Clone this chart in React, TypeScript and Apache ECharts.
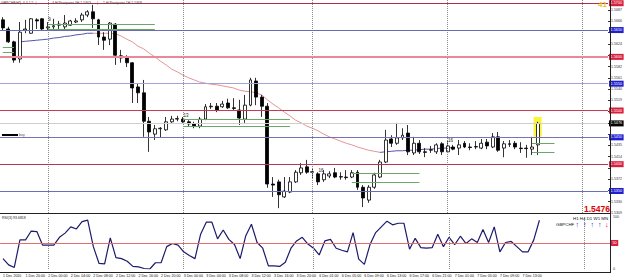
import React, { useEffect, useRef } from 'react';
import * as echarts from 'echarts';

const FONT = '"Liberation Sans", Arial, sans-serif';

// ---- time categories (H1 bars) ----
const dayBlocks = [
  { day: '1 Dec', from: 16, to: 23 },
  { day: '2 Dec', from: 0, to: 23 },
  { day: '3 Dec', from: 0, to: 23 },
  { day: '6 Dec', from: 1, to: 23 },
  { day: '7 Dec', from: 0, to: 23 },
  { day: '8 Dec', from: 0, to: 4 },
];
const firstLabel = '1 Dec 2010';
const lastBarIndex = 95;
const dayBreakIndex = [8, 32, 55, 79, 103];

// ---- OHLC (GBPCHF H1) ----
const opens = [
  1.5669, 1.5652, 1.5628, 1.5596, 1.5650, 1.5644, 1.5669, 1.5671, 1.5654, 1.5656,
  1.5659, 1.5656, 1.5659, 1.5665, 1.5669, 1.5678, 1.5684, 1.5669, 1.5637, 1.5633,
  1.5661, 1.5602, 1.5598, 1.5589, 1.5544, 1.5533, 1.5480, 1.5456, 1.5466, 1.5464,
  1.5479, 1.5484, 1.5484, 1.5479, 1.5475, 1.5471, 1.5484, 1.5507, 1.5508, 1.5507,
  1.5514, 1.5505, 1.5501, 1.5484, 1.5510, 1.5555, 1.5525, 1.5508, 1.5363, 1.5367,
  1.5339, 1.5348, 1.5367, 1.5384, 1.5395, 1.5385, 1.5382, 1.5371, 1.5378, 1.5384,
  1.5376, 1.5376, 1.5376, 1.5385, 1.5357, 1.5333, 1.5357, 1.5376, 1.5404, 1.5447,
  1.5439, 1.5449, 1.5458, 1.5421, 1.5439, 1.5423, 1.5426, 1.5423, 1.5438, 1.5423,
  1.5432, 1.5430, 1.5439, 1.5432, 1.5432, 1.5430, 1.5441, 1.5432, 1.5451, 1.5430,
  1.5438, 1.5439, 1.5430, 1.5430, 1.5428, 1.5436,
];
const closes = [
  1.5654, 1.5628, 1.5594, 1.5646, 1.5652, 1.5671, 1.5667, 1.5652, 1.5656, 1.5658,
  1.5661, 1.5663, 1.5667, 1.5667, 1.5678, 1.5684, 1.5671, 1.5637, 1.5631, 1.5663,
  1.5603, 1.5598, 1.5589, 1.5542, 1.5533, 1.5480, 1.5460, 1.5466, 1.5467, 1.5479,
  1.5484, 1.5485, 1.5479, 1.5475, 1.5471, 1.5484, 1.5507, 1.5508, 1.5501, 1.5512,
  1.5505, 1.5504, 1.5486, 1.5510, 1.5557, 1.5525, 1.5508, 1.5363, 1.5361, 1.5343,
  1.5350, 1.5367, 1.5385, 1.5393, 1.5385, 1.5386, 1.5367, 1.5382, 1.5382, 1.5376,
  1.5377, 1.5375, 1.5384, 1.5357, 1.5337, 1.5357, 1.5380, 1.5404, 1.5445, 1.5439,
  1.5449, 1.5454, 1.5423, 1.5439, 1.5423, 1.5422, 1.5427, 1.5436, 1.5423, 1.5434,
  1.5428, 1.5436, 1.5432, 1.5431, 1.5433, 1.5439, 1.5434, 1.5451, 1.5426, 1.5438,
  1.5437, 1.5432, 1.5429, 1.5429, 1.5432, 1.5476,
];
const lows = [
  1.5650, 1.5626, 1.5589, 1.5589, 1.5644, 1.5643, 1.5652, 1.5650, 1.5650, 1.5652,
  1.5652, 1.5650, 1.5658, 1.5663, 1.5665, 1.5674, 1.5654, 1.5622, 1.5613, 1.5622,
  1.5585, 1.5589, 1.5581, 1.5514, 1.5514, 1.5451, 1.5423, 1.5445, 1.5449, 1.5462,
  1.5477, 1.5480, 1.5477, 1.5471, 1.5467, 1.5467, 1.5482, 1.5503, 1.5497, 1.5505,
  1.5503, 1.5501, 1.5473, 1.5477, 1.5508, 1.5510, 1.5488, 1.5356, 1.5339, 1.5318,
  1.5337, 1.5346, 1.5365, 1.5380, 1.5382, 1.5374, 1.5361, 1.5367, 1.5374, 1.5374,
  1.5371, 1.5371, 1.5374, 1.5352, 1.5320, 1.5328, 1.5354, 1.5374, 1.5402, 1.5432,
  1.5436, 1.5445, 1.5417, 1.5417, 1.5419, 1.5413, 1.5421, 1.5419, 1.5417, 1.5421,
  1.5426, 1.5417, 1.5430, 1.5426, 1.5428, 1.5428, 1.5428, 1.5430, 1.5423, 1.5413,
  1.5432, 1.5428, 1.5421, 1.5412, 1.5417, 1.5417,
];
const highs = [
  1.5674, 1.5656, 1.5630, 1.5665, 1.5669, 1.5672, 1.5672, 1.5672, 1.5665, 1.5671,
  1.5667, 1.5678, 1.5669, 1.5672, 1.5682, 1.5687, 1.5697, 1.5671, 1.5646, 1.5665,
  1.5663, 1.5613, 1.5603, 1.5590, 1.5551, 1.5557, 1.5488, 1.5473, 1.5469, 1.5488,
  1.5490, 1.5490, 1.5488, 1.5482, 1.5479, 1.5488, 1.5512, 1.5514, 1.5514, 1.5518,
  1.5522, 1.5523, 1.5520, 1.5529, 1.5561, 1.5561, 1.5529, 1.5514, 1.5376, 1.5371,
  1.5376, 1.5376, 1.5389, 1.5402, 1.5408, 1.5393, 1.5385, 1.5389, 1.5387, 1.5393,
  1.5385, 1.5389, 1.5389, 1.5389, 1.5361, 1.5361, 1.5384, 1.5408, 1.5464, 1.5454,
  1.5477, 1.5467, 1.5473, 1.5451, 1.5445, 1.5430, 1.5434, 1.5439, 1.5441, 1.5445,
  1.5436, 1.5445, 1.5443, 1.5439, 1.5443, 1.5447, 1.5447, 1.5458, 1.5460, 1.5443,
  1.5445, 1.5443, 1.5441, 1.5436, 1.5451, 1.5479,
];

// ---- RSI(3) ----
const rsiValues = [
  20, 8, 3, 56, 56, 73, 72, 46, 46, 46,
  61, 69, 81, 77, 91, 94, 43, 11, 10, 60,
  22, 20, 15, 5, 4, 1, 0, 12, 12, 43,
  49, 46, 33, 26, 20, 67, 90, 90, 58, 75,
  57, 47, 20, 64, 86, 51, 40, 6, 6, 5,
  13, 40, 54, 61, 48, 40, 27, 54, 57, 40,
  36, 33, 70, 19, 9, 47, 70, 81, 92, 85,
  88, 88, 38, 59, 41, 40, 41, 67, 43, 61,
  47, 63, 49, 58, 51, 76, 51, 81, 33, 51,
  53, 43, 33, 33, 56, 93.68,
];
const rsiLevel = 50;

// ---- moving average (colour changes with slope) ----
const pinkMAStart = 16;
const pinkMA = [
  1.5644, 1.5644, 1.5644, 1.5644, 1.5643, 1.5639, 1.5633, 1.5628, 1.5620, 1.5615,
  1.5607, 1.5600, 1.5592, 1.5585, 1.5577, 1.5572, 1.5566, 1.5561, 1.5557, 1.5553,
  1.5551, 1.5549, 1.5548, 1.5546, 1.5544, 1.5542, 1.5538, 1.5536, 1.5535, 1.5533,
  1.5529, 1.5520, 1.5512, 1.5505, 1.5497, 1.5490, 1.5482, 1.5477, 1.5471, 1.5467,
  1.5462, 1.5456, 1.5451, 1.5447, 1.5443, 1.5439, 1.5436, 1.5432, 1.5429, 1.5426,
  1.5424, 1.5422,
];
const blueMA1Start = 3;
const blueMA1 = [1.5628, 1.5629, 1.5630, 1.5631, 1.5632, 1.5633, 1.5635, 1.5636, 1.5638, 1.5639, 1.5641, 1.5642, 1.5644, 1.5644];
const blueMA2Start = 67;
const blueMA2 = [1.5422, 1.5423, 1.5424, 1.5425, 1.5425, 1.5426, 1.5426, 1.5427, 1.5428, 1.5428, 1.5429, 1.5430, 1.5430, 1.5431];

// ---- horizontal levels ----
const levelPrices = [1.57, 1.565, 1.56, 1.555, 1.55, 1.545, 1.54, 1.535];
const levelLineColors = ['#a8324e', '#6b6bb5', '#e8899a', '#a3a3d6', '#c43a5c', '#7373b5', '#b83555', '#6e6eb8'];
const levelLineWidths = [1.2, 1, 2, 1, 1, 1, 1, 1];
const levelTagColors = ['#d81f3d', '#1f1fd0', '#d81f3d', '#1f1fd0', '#d81f3d', '#1f1fd0', '#d81f3d', '#1f1fd0'];
const currentPrice = 1.5476;

// ---- short green range lines ----
const greenFrom = [0, 0, 8, 8, 32, 32, 62, 62, 94, 94];
const greenTo = [2, 2, 27, 27, 51, 51, 74, 74, 98, 98];
const greenPrices = [1.5618, 1.5609, 1.5661, 1.5652, 1.5484, 1.5471, 1.5384, 1.5367, 1.5439, 1.5423];

// ---- text marks on the chart ----
const noteIndex = [8, 32, 56, 79];
const notePrices = [1.5670, 1.5490, 1.5389, 1.5445];
const noteTexts = ['9', '13', '16', '16'];

// ---- highlighted last bar ----
const highlightIndex = 95;
const highlightTop = 1.5488;
const highlightBottom = 1.5451;

function buildCategories(): string[] {
  const out: string[] = [];
  dayBlocks.forEach((b) => {
    for (let h = b.from; h <= b.to; h++) out.push(`${b.day} ${String(h).padStart(2, '0')}:00`);
  });
  return out;
}

function fillSeries(n: number, parts: { start: number; vals: number[] }[]) {
  const a: (number | null)[] = new Array(n).fill(null);
  parts.forEach((p) => p.vals.forEach((v, k) => (a[p.start + k] = v)));
  return a;
}

function buildOption() {
  const cats = buildCategories();
  const n = opens.length;
  const candleData = opens.map((o, i) => [o, closes[i], lows[i], highs[i]]);
  const pinkLine = fillSeries(n, [{ start: pinkMAStart, vals: pinkMA }]);
  const blueLine = fillSeries(n, [
    { start: blueMA1Start, vals: blueMA1 },
    { start: blueMA2Start, vals: blueMA2 },
  ]);
  const tagged = [...levelPrices, currentPrice];

  const tagLabel = (txt: string, bg: string) => ({
    show: true,
    position: 'end',
    formatter: txt,
    backgroundColor: bg,
    color: '#ffffff',
    fontSize: 3.8,
    fontFamily: FONT,
    padding: [1.2, 1.5, 0.8, 1.5],
    distance: 1,
  });

  const mainMarkLines: any[] = [];
  dayBreakIndex.forEach((d) =>
    mainMarkLines.push({ xAxis: d, lineStyle: { color: '#8a8a8a', type: 'dotted', width: 1 }, label: { show: false } })
  );
  levelPrices.forEach((p, i) =>
    mainMarkLines.push({
      yAxis: p,
      lineStyle: { color: levelLineColors[i], width: levelLineWidths[i], type: 'solid' },
      label: tagLabel(p.toFixed(4), levelTagColors[i]),
    })
  );
  mainMarkLines.push({
    yAxis: currentPrice,
    lineStyle: { color: '#cfcfcf', width: 1, type: 'solid' },
    label: tagLabel(currentPrice.toFixed(4), '#000000'),
  });
  greenPrices.forEach((p, i) =>
    mainMarkLines.push([
      { coord: [greenFrom[i], p], lineStyle: { color: '#6aa86a', width: 1, type: 'solid' }, label: { show: false } },
      { coord: [greenTo[i], p] },
    ])
  );

  const rsiMarkLines: any[] = [];
  dayBreakIndex.forEach((d) =>
    rsiMarkLines.push({ xAxis: d, lineStyle: { color: '#8a8a8a', type: 'dotted', width: 1 }, label: { show: false } })
  );
  rsiMarkLines.push({
    yAxis: rsiLevel,
    lineStyle: { color: '#e07070', width: 1, type: 'solid' },
    label: tagLabel(String(rsiLevel), '#d81f3d'),
  });

  const txt = (text: string, x: number, y: number, size: number, fill: string, weight: string = 'normal') => ({
    type: 'text',
    x,
    y,
    silent: true,
    z: 20,
    style: { text, fill, fontSize: size, fontFamily: FONT, fontWeight: weight },
  });
  const hline = (x1: number, y: number, x2: number, color: string) => ({
    type: 'line',
    silent: true,
    z: 20,
    shape: { x1, y1: y, x2, y2: y },
    style: { stroke: color, lineWidth: 1 },
  });

  return {
    animation: false,
    backgroundColor: '#ffffff',
    textStyle: { fontFamily: FONT },
    grid: [
      { left: -2, right: 15, top: 0, height: 213 },
      { left: -2, right: 15, top: 217, height: 52 },
    ],
    xAxis: [
      {
        type: 'category',
        gridIndex: 0,
        data: cats,
        boundaryGap: true,
        axisLine: { show: false },
        axisTick: { show: false },
        axisLabel: { show: false },
        splitLine: { show: false },
      },
      {
        type: 'category',
        gridIndex: 1,
        data: cats,
        boundaryGap: true,
        axisLine: { show: false },
        axisTick: { show: false },
        axisLabel: {
          show: true,
          interval: (i: number) => i % 4 === 0 && i <= lastBarIndex,
          formatter: (v: string, i: number) => (i === 0 ? firstLabel : v),
          fontSize: 3.6,
          color: '#111111',
          align: 'left',
          margin: 4.5,
        },
        splitLine: { show: false },
      },
    ],
    yAxis: [
      {
        type: 'value',
        gridIndex: 0,
        position: 'right',
        min: 1.5309,
        max: 1.5706,
        interval: 0.0021,
        axisLine: { show: false },
        axisTick: { show: true, length: 2, lineStyle: { color: '#333333' } },
        axisLabel: {
          fontSize: 3.6,
          color: '#333333',
          margin: 3,
          showMaxLabel: false,
          formatter: (v: number) => (tagged.some((t) => Math.abs(t - v) < 0.00072) ? '' : v.toFixed(4)),
        },
        splitLine: { show: false },
      },
      {
        type: 'value',
        gridIndex: 1,
        position: 'right',
        min: 0,
        max: 100,
        interval: 50,
        axisLine: { show: false },
        axisTick: { show: false },
        axisLabel: {
          fontSize: 3.6,
          color: '#333333',
          margin: 3,
          formatter: (v: number) => (v === rsiLevel ? '' : String(v)),
        },
        splitLine: { show: false },
      },
    ],
    series: [
      {
        type: 'custom',
        xAxisIndex: 0,
        yAxisIndex: 0,
        z: 1,
        silent: true,
        encode: { x: 0, y: [1, 2] },
        data: [[highlightIndex, highlightTop, highlightBottom]],
        renderItem: (params: any, api: any) => {
          const x = api.value(0);
          const a = api.coord([x, api.value(1)]);
          const b = api.coord([x, api.value(2)]);
          const w = api.size([1, 0])[0] * 1.45;
          return {
            type: 'rect',
            shape: { x: a[0] - w / 2, y: a[1], width: w, height: b[1] - a[1] },
            style: { fill: '#fbf53a' },
          };
        },
      },
      {
        type: 'line',
        xAxisIndex: 0,
        yAxisIndex: 0,
        data: pinkLine,
        symbol: 'none',
        connectNulls: false,
        silent: true,
        z: 2,
        lineStyle: { color: '#e39595', width: 1 },
      },
      {
        type: 'line',
        xAxisIndex: 0,
        yAxisIndex: 0,
        data: blueLine,
        symbol: 'none',
        connectNulls: false,
        silent: true,
        z: 2,
        lineStyle: { color: '#5656a8', width: 1 },
      },
      {
        type: 'candlestick',
        xAxisIndex: 0,
        yAxisIndex: 0,
        data: candleData,
        barWidth: 3.4,
        z: 3,
        itemStyle: {
          color: '#ffffff',
          color0: '#000000',
          borderColor: '#000000',
          borderColor0: '#000000',
          borderWidth: 0.8,
        },
        markLine: {
          silent: true,
          precision: 6,
          symbol: ['none', 'none'],
          label: { show: false },
          data: mainMarkLines,
        },
        markPoint: {
          silent: true,
          symbol: 'rect',
          symbolSize: 1,
          itemStyle: { color: 'rgba(0,0,0,0)' },
          label: { show: true, position: 'right', distance: 0, fontSize: 4.5, color: '#222222', fontFamily: FONT },
          data: noteTexts.map((t, i) => ({
            coord: [noteIndex[i], notePrices[i]],
            label: { formatter: t },
          })),
        },
      },
      {
        type: 'line',
        xAxisIndex: 1,
        yAxisIndex: 1,
        data: rsiValues,
        symbol: 'none',
        silent: true,
        z: 3,
        lineStyle: { color: '#1b1b6b', width: 1.2 },
        markLine: {
          silent: true,
          precision: 6,
          symbol: ['none', 'none'],
          label: { show: false },
          data: rsiMarkLines,
        },
      },
    ],
    graphic: [
      { type: 'line', silent: true, z: 20, shape: { x1: 610.5, y1: 0, x2: 610.5, y2: 273 }, style: { stroke: '#222222', lineWidth: 1 } },
      hline(0, 213.5, 610, '#222222'),
      hline(0, 272.5, 610, '#222222'),
      txt('GBPCHF,H1', 1, 0.5, 3.5, '#444444'),
      txt('|  4.4 1.5  |', 20, 0.5, 3.5, '#444444'),
      txt('4 H Pivotpoint 4H 1.5463', 52, 0.5, 3.5, '#444444'),
      txt('|', 97, 0.5, 3.5, '#444444'),
      txt('1 H Pivotpoint 1H 1.5468', 103, 0.5, 3.5, '#444444'),
      { type: 'rect', silent: true, z: 20, shape: { x: 2, y: 134, width: 16, height: 2 }, style: { fill: '#000000' } },
      txt('buy', 19, 132.5, 3.5, '#444444'),
      txt('RSI(3) 93.6818', 2, 216, 3.5, '#222222'),
      txt('41', 598, 0, 8, '#f2c21b', 'bold'),
      txt('1.5476', 584, 204.5, 8.5, '#e00000', 'bold'),
      txt('H1 H4 D1 W1 MN', 573, 216.5, 4.4, '#111111'),
      txt('GBPCHF', 556, 222, 4.4, '#111111'),
      txt('↑', 575.5, 221, 7, '#1a1ad6', 'bold'),
      txt('↑', 583, 221, 7, '#1a1ad6', 'bold'),
      txt('↑', 590.5, 221, 7, '#1a1ad6', 'bold'),
      txt('↑', 598, 221, 7, '#1a1ad6', 'bold'),
      txt('↓', 605, 221, 7, '#e00000', 'bold'),
    ],
  };
}

export default function App() {
  const ref = useRef<HTMLDivElement>(null);
  useEffect(() => {
    document.body.style.margin = '0';
    if (!ref.current) return;
    const chart = echarts.init(ref.current, undefined, { renderer: 'svg' });
    chart.setOption(buildOption() as any);
    return () => chart.dispose();
  }, []);
  return <div ref={ref} style={{ position: 'fixed', left: 0, top: 0, width: 625, height: 280, background: '#fff' }} />;
}
